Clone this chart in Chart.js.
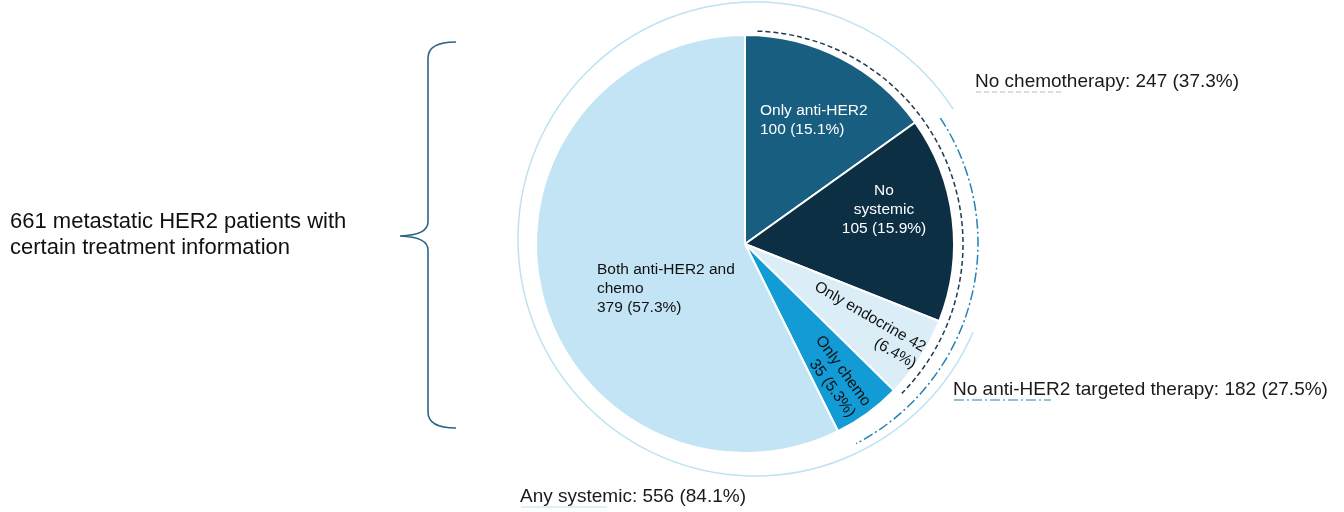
<!DOCTYPE html>
<html>
<head>
<meta charset="utf-8">
<script src="https://cdn.jsdelivr.net/npm/chart.js@4.4.1/dist/chart.umd.min.js"></script>
<style>
    html, body { margin: 0; padding: 0; background: #fff; }
    #wrap { width: 1344px; height: 512px; position: relative; }
</style>
</head>
<body>
<div id="wrap"><canvas id="chTreat"></canvas></div>
<script>
// Treatment breakdown of metastatic HER2 patients

const categories = ['Only anti-HER2', 'No systemic', 'Only endocrine', 'Only chemo', 'Both anti-HER2 and chemo'];
const patients = [100, 105, 42, 35, 379];
const sliceText = [
    ['Only anti-HER2', '100 (15.1%)'],
    ['No', 'systemic', '105 (15.9%)'],
    ['Only endocrine 42', '(6.4%)'],
    ['Only chemo', '35 (5.3%)'],
    ['Both anti-HER2 and', 'chemo', '379 (57.3%)']
];
const sliceColors = ['#185e80', '#0c2f43', '#dbeef8', '#129bd5', '#c2e4f4'];

// groups shown as arcs around the pie
const groupNames = ['No chemotherapy', 'No anti-HER2 targeted therapy', 'Any systemic'];
const groupTotals = [247, 182, 556];
const groupPct = ['37.3%', '27.5%', '84.1%'];
const groupSlices = [[0, 1, 2], [1, 2, 3], [2, 3, 4, 0]];

const cohortText = ['661 metastatic HER2 patients with', 'certain treatment information'];

const FONT = '"Liberation Sans", Arial, sans-serif';
const DEG = Math.PI / 180;

// label placement (offsets from pie centre)
const sliceLabelPos = [
    { dx: 15, dy: -133, align: 'left', color: '#fff' },
    { dx: 139, dy: -53, align: 'center', color: '#fff' },
    { dx: 125, dy: 73, rot: 30, color: '#111' },
    { dx: 98, dy: 127, rot: 54, color: '#111' },
    { dx: -148, dy: 26, align: 'left', color: '#111' }
];

// arc styles: centre shift, radius delta, trims in degrees, label spot
const groupArcStyle = [
    { color: '#1d3b50', dash: [5, 3], sx: 5, sy: 0, dr: 4, trimA: 2, trimB: 0, lx: 975, ly: 82, ul: 88 },
    { color: '#2283b4', dash: [10, 3, 2, 3], sx: 7, sy: -1, dr: 17, trimA: 2, trimB: 1, lx: 953, ly: 390, ul: 97 },
    { color: '#bde2f3', dash: [], sx: 10, sy: -5, dr: 28, trimA: 1.5, trimB: -2.3, lx: 520, ly: 497, ul: 86 }
];

const annotate = {
    id: 'annotate',
    afterDatasetsDraw(chart) {
        const ctx = chart.ctx;
        const arcs = chart.getDatasetMeta(0).data;
        const cx = arcs[0].x, cy = arcs[0].y, R = arcs[0].outerRadius;

        ctx.save();
        ctx.textBaseline = 'middle';
        ctx.font = '15.5px ' + FONT;

        // slice labels
        sliceText.forEach((lines, i) => {
            const p = sliceLabelPos[i];
            ctx.fillStyle = p.color;
            if (p.rot) {
                ctx.save();
                ctx.translate(cx + p.dx, cy + p.dy);
                ctx.rotate(p.rot * DEG);
                const w1 = ctx.measureText(lines[0]).width;
                ctx.textAlign = 'right';
                lines.forEach((t, k) => ctx.fillText(t, w1 / 2, k * 19));
                ctx.restore();
            } else {
                ctx.textAlign = p.align;
                lines.forEach((t, k) => ctx.fillText(t, cx + p.dx, cy + p.dy + k * 19));
            }
        });

        // group arcs + their labels
        groupSlices.forEach((members, g) => {
            const s = groupArcStyle[g];
            const a0 = arcs[members[0]].startAngle;
            let a1 = arcs[members[members.length - 1]].endAngle;
            if (a1 <= a0) a1 += Math.PI * 2;
            ctx.beginPath();
            ctx.strokeStyle = s.color;
            ctx.lineWidth = 1.5;
            ctx.setLineDash(s.dash);
            ctx.arc(cx + s.sx, cy + s.sy, R + s.dr, a0 + s.trimA * DEG, a1 - s.trimB * DEG);
            ctx.stroke();

            // short underline under label start
            ctx.beginPath();
            ctx.moveTo(s.lx + 1, s.ly + 10);
            ctx.lineTo(s.lx + 1 + s.ul, s.ly + 10);
            ctx.strokeStyle = g === 0 ? '#b4bcc4' : s.color;
            ctx.lineWidth = 1;
            ctx.stroke();
            ctx.setLineDash([]);

            ctx.font = '19px ' + FONT;
            ctx.fillStyle = '#1a1a1a';
            ctx.textAlign = 'left';
            ctx.fillText(groupNames[g] + ': ' + groupTotals[g] + ' (' + groupPct[g] + ')', s.lx, s.ly);
        });

        // cohort text + brace
        ctx.font = '22px ' + FONT;
        ctx.fillStyle = '#111';
        cohortText.forEach((t, k) => ctx.fillText(t, 10, 222 + k * 26));

        ctx.beginPath();
        ctx.strokeStyle = '#2b6587';
        ctx.lineWidth = 1.6;
        ctx.moveTo(456, 42);
        ctx.quadraticCurveTo(428, 42, 428, 58);
        ctx.lineTo(428, 222);
        ctx.quadraticCurveTo(428, 235, 400, 236);
        ctx.quadraticCurveTo(428, 237, 428, 250);
        ctx.lineTo(428, 412);
        ctx.quadraticCurveTo(428, 428, 456, 428);
        ctx.stroke();
        ctx.restore();
    }
};

new Chart(document.getElementById('chTreat').getContext('2d'), {
    type: 'pie',
    data: {
        labels: categories,
        datasets: [{
            data: patients,
            backgroundColor: sliceColors,
            borderColor: '#ffffff',
            borderWidth: 2,
            offset: 0,
            hoverOffset: 0
        }]
    },
    options: {
        responsive: true,
        maintainAspectRatio: false,
        animation: false,
        events: [],
        layout: { padding: { left: 535, right: 389, top: 34, bottom: 58 } },
        plugins: {
            legend: { display: false },
            tooltip: { enabled: false }
        }
    },
    plugins: [annotate]
});
</script>
</body>
</html>
